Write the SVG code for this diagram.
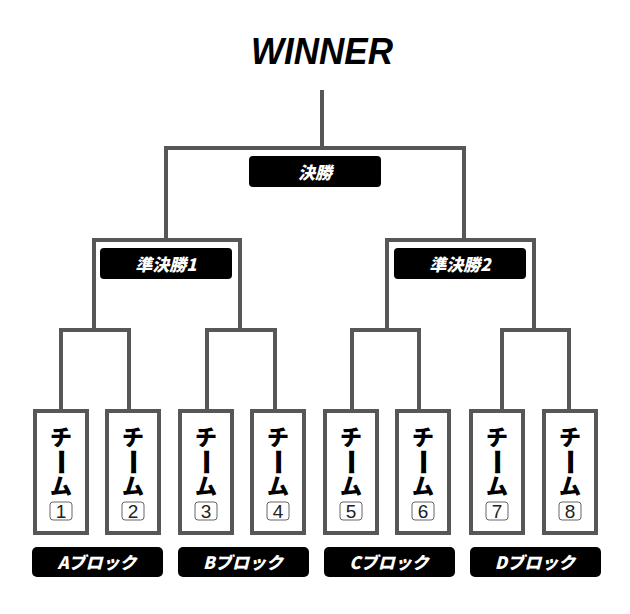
<svg xmlns="http://www.w3.org/2000/svg" width="630" height="614" viewBox="0 0 630 614">
<style>
.ln{fill:none;stroke:#575757;stroke-width:4;stroke-linejoin:miter;stroke-linecap:butt}
.tb{fill:#fff;stroke:#575757;stroke-width:4}
.lbl{fill:#000}
.lt{fill:#fff;font-family:"Noto Sans CJK JP","Liberation Sans",sans-serif;font-weight:900;font-style:italic;font-size:17px;text-anchor:middle}
.tc{fill:#000;font-family:"Noto Sans CJK JP",sans-serif;font-weight:900;font-size:22px;text-anchor:middle}
.bar{font-size:27px}
.nb{fill:#fff;stroke:#666;stroke-width:1}
.nt{fill:#222;font-family:"Liberation Sans",sans-serif;font-size:19px;text-anchor:middle}
</style>
<rect width="630" height="614" fill="#fff"/>
<g id="connectors">
<path class="ln" d="M322,90V148"/>
<path class="ln" d="M166,240V148H464V240"/>
<path class="ln" d="M94,330V240H240V330"/>
<path class="ln" d="M387,330V240H534V330"/>
<path class="ln" d="M61,409V330H129V409"/>
<path class="ln" d="M207,409V330H275V409"/>
<path class="ln" d="M352,409V330H419V409"/>
<path class="ln" d="M502,409V330H569V409"/>
</g>
<g id="winner"><text x="322" y="64" font-family="Liberation Sans,sans-serif" font-weight="bold" font-style="italic" font-size="37" text-anchor="middle" textLength="142" lengthAdjust="spacingAndGlyphs">WINNER</text></g>
<g id="final"><rect class="lbl" x="249" y="156" width="132" height="31" rx="4"/><text class="lt" x="315" y="179">決勝</text></g>
<g id="semi1"><rect class="lbl" x="100" y="248" width="132" height="31" rx="4"/><text class="lt" x="166" y="271">準決勝1</text></g>
<g id="semi2"><rect class="lbl" x="394" y="248" width="132" height="31" rx="4"/><text class="lt" x="460" y="271">準決勝2</text></g>
<g id="team1"><rect class="tb" x="35" y="411" width="52" height="122"/><text class="tc" x="61" y="445">チ</text><text class="tc bar" transform="translate(61,462) rotate(90)" dy="0.37em">ー</text><text class="tc" x="61" y="494">ム</text><rect class="nb" x="50" y="502" width="22" height="18" rx="3"/><text class="nt" x="61" y="518">1</text></g>
<g id="team2"><rect class="tb" x="107" y="411" width="52" height="122"/><text class="tc" x="133" y="445">チ</text><text class="tc bar" transform="translate(133,462) rotate(90)" dy="0.37em">ー</text><text class="tc" x="133" y="494">ム</text><rect class="nb" x="122" y="502" width="22" height="18" rx="3"/><text class="nt" x="133" y="518">2</text></g>
<g id="team3"><rect class="tb" x="180" y="411" width="52" height="122"/><text class="tc" x="206" y="445">チ</text><text class="tc bar" transform="translate(206,462) rotate(90)" dy="0.37em">ー</text><text class="tc" x="206" y="494">ム</text><rect class="nb" x="195" y="502" width="22" height="18" rx="3"/><text class="nt" x="206" y="518">3</text></g>
<g id="team4"><rect class="tb" x="252" y="411" width="52" height="122"/><text class="tc" x="278" y="445">チ</text><text class="tc bar" transform="translate(278,462) rotate(90)" dy="0.37em">ー</text><text class="tc" x="278" y="494">ム</text><rect class="nb" x="267" y="502" width="22" height="18" rx="3"/><text class="nt" x="278" y="518">4</text></g>
<g id="team5"><rect class="tb" x="325" y="411" width="52" height="122"/><text class="tc" x="351" y="445">チ</text><text class="tc bar" transform="translate(351,462) rotate(90)" dy="0.37em">ー</text><text class="tc" x="351" y="494">ム</text><rect class="nb" x="340" y="502" width="22" height="18" rx="3"/><text class="nt" x="351" y="518">5</text></g>
<g id="team6"><rect class="tb" x="397" y="411" width="52" height="122"/><text class="tc" x="423" y="445">チ</text><text class="tc bar" transform="translate(423,462) rotate(90)" dy="0.37em">ー</text><text class="tc" x="423" y="494">ム</text><rect class="nb" x="412" y="502" width="22" height="18" rx="3"/><text class="nt" x="423" y="518">6</text></g>
<g id="team7"><rect class="tb" x="471" y="411" width="52" height="122"/><text class="tc" x="497" y="445">チ</text><text class="tc bar" transform="translate(497,462) rotate(90)" dy="0.37em">ー</text><text class="tc" x="497" y="494">ム</text><rect class="nb" x="486" y="502" width="22" height="18" rx="3"/><text class="nt" x="497" y="518">7</text></g>
<g id="team8"><rect class="tb" x="544" y="411" width="52" height="122"/><text class="tc" x="570" y="445">チ</text><text class="tc bar" transform="translate(570,462) rotate(90)" dy="0.37em">ー</text><text class="tc" x="570" y="494">ム</text><rect class="nb" x="559" y="502" width="22" height="18" rx="3"/><text class="nt" x="570" y="518">8</text></g>
<g id="blockA"><rect class="lbl" x="32" y="547" width="131" height="30" rx="5"/><text class="lt" x="97" y="569">Aブロック</text></g>
<g id="blockB"><rect class="lbl" x="178" y="547" width="131" height="30" rx="5"/><text class="lt" x="243" y="569">Bブロック</text></g>
<g id="blockC"><rect class="lbl" x="324" y="547" width="131" height="30" rx="5"/><text class="lt" x="389" y="569">Cブロック</text></g>
<g id="blockD"><rect class="lbl" x="470" y="547" width="131" height="30" rx="5"/><text class="lt" x="535" y="569">Dブロック</text></g>
</svg>
